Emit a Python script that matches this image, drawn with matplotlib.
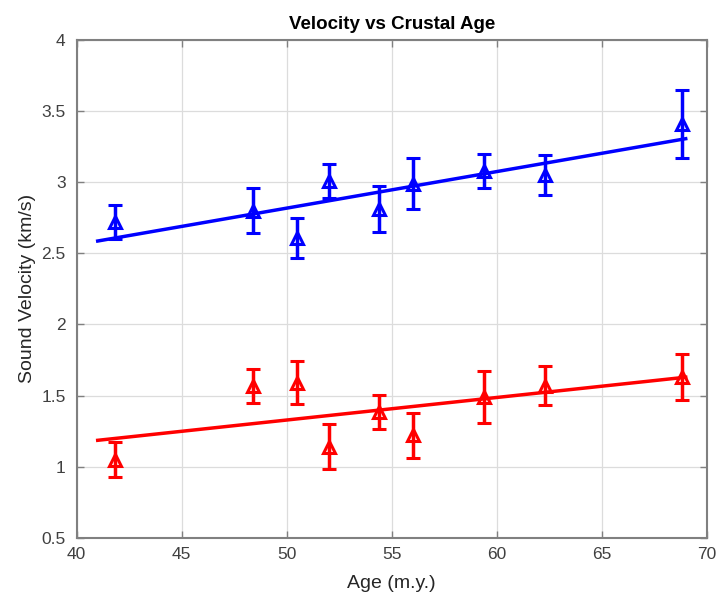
import matplotlib
matplotlib.use('Agg')
import matplotlib.pyplot as plt
import numpy as np

# Crustal age (m.y.) of each sample
age = [41.8, 48.4, 50.5, 52.0, 54.4, 56.0, 59.4, 62.3, 68.8]

# Upper (blue) velocity series and its error
vel_blue = [2.72, 2.80, 2.61, 3.01, 2.81, 2.99, 3.08, 3.05, 3.41]
err_blue = [0.12, 0.16, 0.14, 0.12, 0.16, 0.18, 0.12, 0.14, 0.24]

# Lower (red) velocity series and its error
vel_red = [1.05, 1.565, 1.59, 1.14, 1.385, 1.22, 1.49, 1.57, 1.63]
err_red = [0.12, 0.12, 0.15, 0.16, 0.12, 0.16, 0.18, 0.14, 0.16]

fit_range = [41, 69]

plt.rcParams['font.family'] = ['Liberation Sans', 'DejaVu Sans']

fig = plt.figure(figsize=(7.19, 5.99), dpi=100)
ax = fig.add_axes([0.1067, 0.1023, 0.8762, 0.8309])

for vel, err, color in [(vel_blue, err_blue, '#0000ff'), (vel_red, err_red, '#ff0000')]:
    ax.errorbar(age, vel, yerr=err, fmt='^', color=color, mfc='none', mec=color,
                mew=2.2, ms=8, ecolor=color, elinewidth=2.5, capsize=5, capthick=2.5,
                zorder=3)
    # least squares line through the points
    coef = np.polyfit(age, vel, 1)
    xs = np.array(fit_range)
    ax.plot(xs, np.polyval(coef, xs), '-', color=color, lw=2.5, zorder=3)

ax.set_xlim(40, 70)
ax.set_ylim(0.5, 4)
ax.set_xticks(np.arange(40, 71, 5))
ax.set_yticks(np.arange(0.5, 4.01, 0.5))
ax.set_yticklabels(['0.5', '1', '1.5', '2', '2.5', '3', '3.5', '4'])

ax.grid(True, color='#dcdcdc', lw=0.9)
ax.set_axisbelow(True)
for s in ax.spines.values():
    s.set_color('#808080')
    s.set_linewidth(1.5)
ax.tick_params(direction='in', top=True, right=True, length=5, width=1,
               color='#808080', labelsize=12.5, labelcolor='#404040')
ax.tick_params(axis='y', pad=8)
ax.tick_params(axis='x', pad=7)

ax.set_xlabel('Age (m.y.)', fontsize=14, color='#262626', labelpad=9)
ax.set_ylabel('Sound Velocity (km/s)', fontsize=14, color='#262626', labelpad=4)
ax.set_title('Velocity vs Crustal Age', fontsize=13.5, fontweight='bold', pad=8)

fig.savefig('out.png', dpi=100)
